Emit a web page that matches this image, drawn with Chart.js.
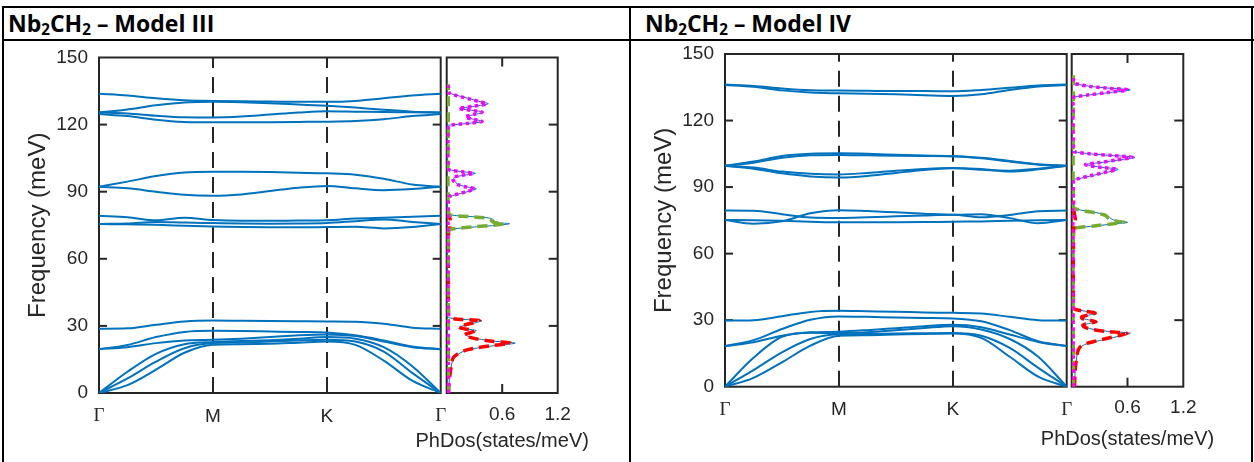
<!DOCTYPE html>
<html><head><meta charset="utf-8">
<script src="https://cdn.jsdelivr.net/npm/chart.js@4/dist/chart.umd.min.js"></script>
<style>
html,body{margin:0;padding:0;background:#fff;}
#page{position:relative;width:1254px;height:462px;overflow:hidden;background:#fff;}
.ln{position:absolute;background:#000;}
.hdr{position:absolute;top:10px;font-family:'Open Sans',Lato,sans-serif;font-weight:700;font-size:23px;line-height:26px;color:#000;white-space:nowrap;}
.hdr sub{font-size:0.66em;vertical-align:-0.22em;line-height:0;}
canvas{position:absolute;}
</style></head><body>
<div id="page">
  <div class="ln" style="left:2px;top:6px;width:1252px;height:2px"></div>
  <div class="ln" style="left:2px;top:39px;width:1252px;height:2px"></div>
  <div class="ln" style="left:2px;top:6px;width:2px;height:456px"></div>
  <div class="ln" style="left:629px;top:6px;width:2px;height:456px"></div>
  <div class="ln" style="left:1251px;top:6px;width:2px;height:456px"></div>
  <div class="hdr" style="left:8px">Nb<sub>2</sub>CH<sub>2</sub> – Model III</div>
  <div class="hdr" style="left:645px">Nb<sub>2</sub>CH<sub>2</sub> – Model IV</div>
  <canvas id="dispIII" width="430" height="421" style="left:19px;top:41px"></canvas>
  <canvas id="dosIII" width="200" height="421" style="left:400px;top:41px"></canvas>
  <canvas id="dispIV" width="430" height="421" style="left:645px;top:41px"></canvas>
  <canvas id="dosIV" width="200" height="421" style="left:1025px;top:41px"></canvas>
</div>
<script>
// ---------- axes / labels ----------
const kPath = [0, 0.25, 0.5, 0.75, 1, 1.25, 1.5, 1.75, 2, 2.25, 2.5, 2.75, 3];
const kTicks = [0, 1, 2, 3];
const kLabels = ['Γ', 'M', 'K', 'Γ'];
const freqTicks = [0, 30, 60, 90, 120, 150];
const dosTicks = [0, 0.6, 1.2];
const dosTickLabels = ['', '0.6', '1.2'];
const freqTitle = 'Frequency (meV)';
const dosTitle = 'PhDos(states/meV)';

// ---------- Model III phonon bands (meV) along Γ-M-K-Γ ----------
const III_b01 = [0, 3.5, 10.4, 18.0, 21.6, 21.8, 22.0, 22.5, 23.0, 21.5, 14.5, 5.5, 0];
const III_b02 = [0, 6.5, 14.0, 20.0, 22.3, 22.6, 23.0, 23.5, 23.8, 23.0, 18.5, 9.0, 0];
const III_b03 = [0, 9.5, 17.5, 21.8, 22.8, 23.2, 23.6, 24.2, 25.0, 24.3, 20.5, 12.0, 0];
const III_b04 = [19.6, 20.5, 22.3, 23.5, 23.8, 24.3, 25.0, 25.8, 26.2, 25.5, 23.0, 20.5, 19.6];
const III_b05 = [19.6, 21.5, 25.0, 27.3, 27.8, 27.7, 27.5, 27.3, 27.0, 25.8, 23.5, 20.8, 19.6];
const III_b06 = [28.7, 28.9, 30.5, 32.0, 32.4, 32.3, 32.2, 32.1, 32.0, 31.9, 31.0, 29.2, 28.7];
const III_b07 = [75.6, 75.4, 75.2, 74.8, 74.4, 74.2, 74.1, 74.1, 74.2, 74.3, 73.6, 74.2, 75.6];
const III_b08 = [75.6, 75.8, 76.5, 76.2, 76.0, 75.8, 75.7, 75.8, 76.0, 76.8, 77.6, 76.5, 75.6];
const III_b09 = [79.2, 78.6, 77.2, 78.3, 77.3, 77.0, 77.0, 77.1, 77.2, 78.0, 78.4, 78.8, 79.2];
const III_b10 = [92.2, 91.5, 90.0, 88.6, 88.2, 88.8, 90.3, 91.8, 92.6, 91.5, 90.7, 91.2, 92.2];
const III_b11 = [92.2, 94.5, 97.0, 98.6, 98.9, 98.9, 98.8, 98.5, 98.2, 97.6, 95.8, 93.2, 92.2];
const III_b12 = [124.7, 123.8, 122.2, 121.2, 121.0, 121.0, 121.1, 121.2, 121.3, 121.6, 122.4, 123.8, 124.7];
const III_b13 = [125.4, 125.0, 124.0, 123.3, 123.2, 123.6, 124.5, 125.4, 126.0, 125.8, 125.6, 125.5, 125.4];
const III_b14 = [125.4, 126.8, 128.6, 129.9, 130.2, 130.0, 129.6, 129.0, 128.4, 127.6, 126.6, 125.8, 125.4];
const III_b15 = [133.8, 133.0, 131.8, 130.9, 130.6, 130.4, 130.3, 130.2, 130.2, 130.6, 131.8, 133.0, 133.8];

// ---------- Model IV phonon bands (meV) ----------
const IV_b01 = [0, 4.0, 11.0, 18.5, 23.0, 23.2, 23.5, 23.8, 24.0, 22.0, 13.5, 4.5, 0];
const IV_b02 = [0, 7.5, 15.5, 21.5, 23.6, 23.8, 24.0, 24.1, 24.2, 23.0, 17.5, 8.5, 0];
const IV_b03 = [0, 13.0, 22.5, 24.3, 24.2, 24.6, 25.5, 26.5, 27.3, 25.8, 21.5, 13.5, 0];
const IV_b04 = [18.3, 20.0, 23.0, 24.5, 24.8, 25.5, 26.4, 27.3, 27.9, 26.8, 23.5, 20.2, 18.3];
const IV_b05 = [18.3, 21.0, 26.0, 30.2, 31.7, 31.5, 31.2, 31.0, 30.8, 29.5, 25.5, 20.5, 18.3];
const IV_b06 = [29.8, 30.0, 31.8, 33.7, 34.2, 34.0, 33.8, 33.5, 33.3, 33.0, 31.5, 30.0, 29.8];
const IV_b07 = [79.4, 79.3, 77.8, 76.3, 76.1, 76.4, 76.8, 77.2, 77.5, 76.4, 77.4, 79.1, 79.4];
const IV_b08 = [75.2, 73.5, 74.6, 78.2, 79.6, 79.2, 78.6, 78.0, 77.5, 77.8, 76.0, 73.7, 75.2];
const IV_b09 = [75.2, 75.1, 74.8, 74.4, 74.1, 74.1, 74.1, 74.2, 74.4, 74.5, 74.8, 75.0, 75.2];
const IV_b10 = [99.6, 98.3, 96.2, 94.8, 94.3, 95.0, 96.4, 97.7, 98.5, 98.2, 97.0, 98.0, 99.6];
const IV_b11 = [99.6, 98.8, 97.0, 96.0, 95.7, 96.4, 97.4, 98.2, 98.6, 97.8, 97.4, 98.3, 99.6];
const IV_b12 = [99.6, 101.0, 103.2, 104.3, 104.5, 104.3, 104.1, 104.0, 103.9, 103.0, 101.5, 100.1, 99.6];
const IV_b13 = [99.6, 101.5, 104.0, 105.0, 105.2, 105.0, 104.6, 104.2, 103.9, 103.2, 101.8, 100.3, 99.6];
const IV_b14 = [136.0, 135.2, 133.6, 132.6, 132.3, 132.1, 131.8, 131.4, 131.1, 131.8, 133.8, 135.4, 136.0];
const IV_b15 = [136.2, 135.6, 134.5, 133.7, 133.5, 133.4, 133.3, 133.3, 133.2, 133.8, 134.8, 135.8, 136.2];

// ---------- Phonon DOS, pairs [frequency (meV), DOS (states/meV)] ----------
const dosIII_total = [[0,0.02],[4,0.025],[8,0.035],[11,0.045],[14,0.06],[16,0.08],[17.5,0.13],[18.6,0.18],[19.5,0.26],[20.3,0.36],[21.2,0.52],[22.3,0.74],[23.2,0.5],[24.2,0.34],[25.2,0.24],[26,0.21],[27,0.28],[27.9,0.32],[28.6,0.22],[29.5,0.14],[30.5,0.22],[31.5,0.32],[32.4,0.38],[33,0.14],[33.6,0.03],[34.5,0],
  [72.5,0],[73,0.02],[73.6,0.12],[74.3,0.32],[75,0.55],[75.7,0.68],[76.1,0.56],[76.8,0.52],[77.6,0.5],[78.3,0.45],[78.9,0.25],[79.5,0.06],[80.2,0],
  [87.6,0],[88.2,0.06],[89.2,0.15],[90.2,0.24],[91.3,0.32],[92.1,0.22],[93,0.14],[94,0.1],[95.2,0.08],[96.4,0.08],[97.3,0.18],[98.2,0.31],[98.9,0.18],[99.6,0.05],[100.3,0],
  [119.3,0],[119.8,0.04],[120.6,0.25],[121.4,0.4],[122.3,0.3],[123.4,0.21],[124.5,0.3],[125.6,0.4],[126.4,0.27],[127.2,0.14],[128.2,0.3],[129.3,0.45],[130.3,0.36],[131.3,0.27],[132.3,0.18],[133.3,0.09],[134.2,0.02],[134.7,0]];
const dosIII_Nb = [[0,0.02],[4,0.025],[8,0.035],[11,0.045],[14,0.055],[16,0.075],[17.5,0.12],[18.6,0.17],[19.5,0.24],[20.3,0.34],[21.2,0.49],[22.3,0.69],[23.2,0.47],[24.2,0.32],[25.2,0.22],[26,0.19],[27,0.26],[27.9,0.3],[28.6,0.2],[29.5,0.13],[30.5,0.2],[31.5,0.3],[32.4,0.35],[33,0.12],[33.6,0.03],[34.5,0.02],[72,0.02],[74,0.035],[76,0.045],[78,0.035],[80,0.02],[84,0.02]];
const dosIII_C = [[0,0.018],[72.5,0.018],[73,0.025],[73.6,0.11],[74.3,0.3],[75,0.51],[75.7,0.62],[76.1,0.52],[76.8,0.49],[77.6,0.47],[78.3,0.42],[78.9,0.23],[79.5,0.05],[80.2,0.018],[138,0.018]];
const dosIII_H = [[0,0.018],[87.6,0.018],[88.2,0.05],[89.2,0.14],[90.2,0.23],[91.3,0.3],[92.1,0.21],[93,0.13],[94,0.09],[95.2,0.07],[96.4,0.07],[97.3,0.17],[98.2,0.29],[98.9,0.17],[99.6,0.04],[100.3,0.018],
  [119.3,0.018],[119.8,0.04],[120.6,0.24],[121.4,0.38],[122.3,0.29],[123.4,0.2],[124.5,0.29],[125.6,0.38],[126.4,0.26],[127.2,0.13],[128.2,0.29],[129.3,0.43],[130.3,0.35],[131.3,0.26],[132.3,0.17],[133.3,0.08],[134.2,0.025],[134.7,0.018],[137.6,0.018]];

const dosIV_total = [[0,0.03],[5,0.035],[9,0.04],[12,0.05],[15,0.06],[17,0.08],[18.3,0.11],[19.5,0.17],[20.8,0.3],[22.2,0.45],[23.3,0.56],[24.1,0.63],[24.9,0.4],[25.8,0.24],[26.8,0.15],[27.8,0.13],[28.6,0.2],[29.3,0.28],[30,0.2],[30.8,0.12],[31.6,0.12],[32.4,0.2],[33.2,0.27],[34,0.15],[34.8,0.05],[35.5,0],
  [71,0],[71.6,0.05],[72.5,0.25],[73.4,0.45],[74.1,0.6],[74.7,0.5],[75.2,0.45],[75.8,0.42],[76.6,0.4],[77.3,0.38],[78.2,0.3],[79.2,0.15],[80.2,0.04],[81,0],
  [93,0],[93.8,0.08],[95,0.2],[96.5,0.36],[98,0.5],[98.8,0.35],[99.6,0.2],[100.2,0.16],[101,0.3],[102.2,0.5],[103.4,0.68],[104.2,0.45],[105,0.2],[105.9,0.02],[106.4,0],
  [130.3,0],[130.8,0.06],[131.6,0.2],[132.6,0.4],[133.8,0.63],[134.6,0.4],[135.4,0.2],[136.2,0.08],[136.8,0.02],[137.3,0]];
const dosIV_Nb = [[0,0.03],[5,0.035],[9,0.04],[12,0.05],[15,0.06],[17,0.075],[18.3,0.1],[19.5,0.16],[20.8,0.28],[22.2,0.42],[23.3,0.53],[24.1,0.59],[24.9,0.38],[25.8,0.22],[26.8,0.14],[27.8,0.12],[28.6,0.19],[29.3,0.26],[30,0.19],[30.8,0.11],[31.6,0.11],[32.4,0.19],[33.2,0.25],[34,0.14],[34.8,0.04],[35.5,0.02],[70,0.02],[72.5,0.03],[75,0.04],[78,0.03],[81,0.02],[84,0.02]];
const dosIV_C = [[0,0.018],[71,0.018],[71.6,0.05],[72.5,0.24],[73.4,0.43],[74.1,0.56],[74.7,0.47],[75.2,0.43],[75.8,0.4],[76.6,0.38],[77.3,0.36],[78.2,0.28],[79.2,0.14],[80.2,0.04],[81,0.018],[140.5,0.018]];
const dosIV_H = [[0,0.018],[93,0.018],[93.8,0.07],[95,0.19],[96.5,0.34],[98,0.48],[98.8,0.33],[99.6,0.19],[100.2,0.15],[101,0.29],[102.2,0.48],[103.4,0.65],[104.2,0.43],[105,0.19],[105.9,0.025],[106.4,0.018],
  [130.3,0.018],[130.8,0.06],[131.6,0.19],[132.6,0.38],[133.8,0.6],[134.6,0.38],[135.4,0.19],[136.2,0.08],[136.8,0.025],[137.3,0.018],[140.5,0.018]];

// ---------- styling ----------
const SANS = "'Liberation Sans', Arial, Helvetica, sans-serif";
const SERIF = "'Liberation Serif', 'Times New Roman', serif";
const AX = '#262626';
const BAND = '#0072BD';

Chart.defaults.font.family = SANS;
Chart.defaults.color = AX;

const noPad = s => { s.paddingLeft = 0; s.paddingRight = 0; s.paddingTop = 0; s.paddingBottom = 0; };

const axisFrame = {
  id: 'axisFrame',
  beforeDatasetsDraw(chart, args, o) {
    const {ctx, chartArea: a, scales} = chart;
    const xs = scales.x, ys = scales.y;
    ctx.save();
    ctx.strokeStyle = AX;
    ctx.lineWidth = 2;
    ctx.setLineDash([16, 9]);
    (o.dashedX || []).forEach(v => {
      const px = Math.round(xs.getPixelForValue(v));
      ctx.beginPath(); ctx.moveTo(px, a.bottom); ctx.lineTo(px, a.top); ctx.stroke();
    });
    ctx.setLineDash([]);
    (o.yLeft || []).forEach(v => {
      const py = ys.getPixelForValue(v);
      ctx.beginPath(); ctx.moveTo(a.left, py); ctx.lineTo(a.left + o.tickLen, py); ctx.stroke();
    });
    (o.yRight || []).forEach(v => {
      const py = ys.getPixelForValue(v);
      ctx.beginPath(); ctx.moveTo(a.right, py); ctx.lineTo(a.right - o.tickLen, py); ctx.stroke();
    });
    (o.xTopBottom || []).forEach(v => {
      const px = xs.getPixelForValue(v);
      ctx.beginPath(); ctx.moveTo(px, a.top); ctx.lineTo(px, a.top + o.tickLen); ctx.stroke();
      ctx.beginPath(); ctx.moveTo(px, a.bottom); ctx.lineTo(px, a.bottom - o.tickLen); ctx.stroke();
    });
    ctx.strokeRect(a.left, a.top, a.right - a.left, a.bottom - a.top);
    ctx.restore();
  },
  afterDraw(chart, args, o) {
    if (!o.bottomTitle) return;
    const {ctx, chartArea: a} = chart;
    ctx.save();
    ctx.fillStyle = AX;
    ctx.font = '20px ' + SANS;
    ctx.textAlign = 'center';
    ctx.textBaseline = 'middle';
    ctx.fillText(o.bottomTitle, (a.left + a.right) / 2, o.titleY);
    ctx.restore();
  }
};

function dispersionChart(id, bands, g) {
  return new Chart(document.getElementById(id), {
    type: 'line',
    data: {
      datasets: bands.map(b => ({
        data: b.map((f, i) => ({x: kPath[i], y: f})),
        borderColor: BAND, borderWidth: 2, pointRadius: 0,
        cubicInterpolationMode: 'monotone', fill: false
      }))
    },
    options: {
      responsive: false, animation: false, devicePixelRatio: 1,
      layout: {padding: {left: 0, right: g.pr, top: g.pt, bottom: 0}},
      plugins: {
        legend: {display: false}, tooltip: {enabled: false},
        axisFrame: {dashedX: [1, 2], yLeft: freqTicks.slice(1, -1), yRight: freqTicks.slice(1, -1), tickLen: 8}
      },
      scales: {
        x: {
          type: 'linear', min: 0, max: 3,
          afterBuildTicks: s => { s.ticks = kTicks.map(v => ({value: v})); },
          afterFit: s => { s.height = g.xh; noPad(s); },
          grid: {display: false, drawTicks: false}, border: {display: false},
          ticks: {
            autoSkip: false, maxRotation: 0, padding: 12, color: AX,
            font: c => ({family: (c.tick && (c.tick.value === 0 || c.tick.value === 3)) ? SERIF : SANS, size: 19}),
            callback: v => kLabels[kTicks.indexOf(v)]
          }
        },
        y: {
          type: 'linear', min: 0, max: 150,
          afterBuildTicks: s => { s.ticks = freqTicks.map(v => ({value: v})); },
          afterFit: s => { s.width = 80; noPad(s); },
          grid: {display: false, drawTicks: false}, border: {display: false},
          ticks: {padding: 11, color: AX, font: {family: SANS, size: 19}},
          title: {display: true, text: freqTitle, color: AX, font: {family: SANS, size: 24}, padding: {top: 5, bottom: 0}}
        }
      }
    },
    plugins: [axisFrame]
  });
}

function dosChart(id, total, nb, c, h, g) {
  const pts = arr => arr.map(p => ({x: p[1], y: p[0]}));
  const base = {pointRadius: 0, showLine: true, fill: false, tension: 0.3, borderCapStyle: 'butt'};
  return new Chart(document.getElementById(id), {
    type: 'scatter',
    data: {
      datasets: [
        Object.assign({data: pts(h), borderColor: '#FF00FF', borderWidth: 3.5, borderDash: [3.5, 3.5]}, base),
        Object.assign({data: pts(c), borderColor: '#77AC30', borderWidth: 3.5, borderDash: [10, 6]}, base),
        Object.assign({data: pts(nb), borderColor: '#FF0000', borderWidth: 3.5, borderDash: [10, 6]}, base),
        Object.assign({data: pts(total), borderColor: BAND, borderWidth: 1}, base)
      ]
    },
    options: {
      responsive: false, animation: false, devicePixelRatio: 1,
      layout: {padding: {left: g.pl, right: g.pr, top: g.pt, bottom: 0}},
      plugins: {
        legend: {display: false}, tooltip: {enabled: false},
        axisFrame: {yRight: freqTicks.slice(1, -1), xTopBottom: [dosTicks[1]], tickLen: 9, bottomTitle: dosTitle, titleY: g.ty}
      },
      scales: {
        x: {
          type: 'linear', min: 0, max: 1.2,
          afterBuildTicks: s => { s.ticks = dosTicks.map(v => ({value: v})); },
          afterFit: s => { s.height = g.xh; noPad(s); },
          grid: {display: false, drawTicks: false}, border: {display: false},
          ticks: {autoSkip: false, maxRotation: 0, padding: 10, color: AX, font: {family: SANS, size: 19},
            callback: v => dosTickLabels[dosTicks.indexOf(v)]}
        },
        y: {type: 'linear', min: 0, max: 150, display: false, afterFit: noPad}
      }
    },
    plugins: [axisFrame]
  });
}

dispersionChart('dispIII', [III_b01, III_b02, III_b03, III_b04, III_b05, III_b06, III_b07, III_b08, III_b09, III_b10, III_b11, III_b12, III_b13, III_b14, III_b15], {pt: 16.5, pr: 8.3, xh: 69});
dosChart('dosIII', dosIII_total, dosIII_Nb, dosIII_C, dosIII_H, {pl: 46.7, pr: 42.3, pt: 16.5, xh: 69, ty: 400});
dispersionChart('dispIV', [IV_b01, IV_b02, IV_b03, IV_b04, IV_b05, IV_b06, IV_b07, IV_b08, IV_b09, IV_b10, IV_b11, IV_b12, IV_b13, IV_b14, IV_b15], {pt: 13, pr: 8.3, xh: 75.3});
dosChart('dosIV', dosIV_total, dosIV_Nb, dosIV_C, dosIV_H, {pl: 46.7, pr: 41.7, pt: 13, xh: 75.3, ty: 398});
</script>
</body></html>
